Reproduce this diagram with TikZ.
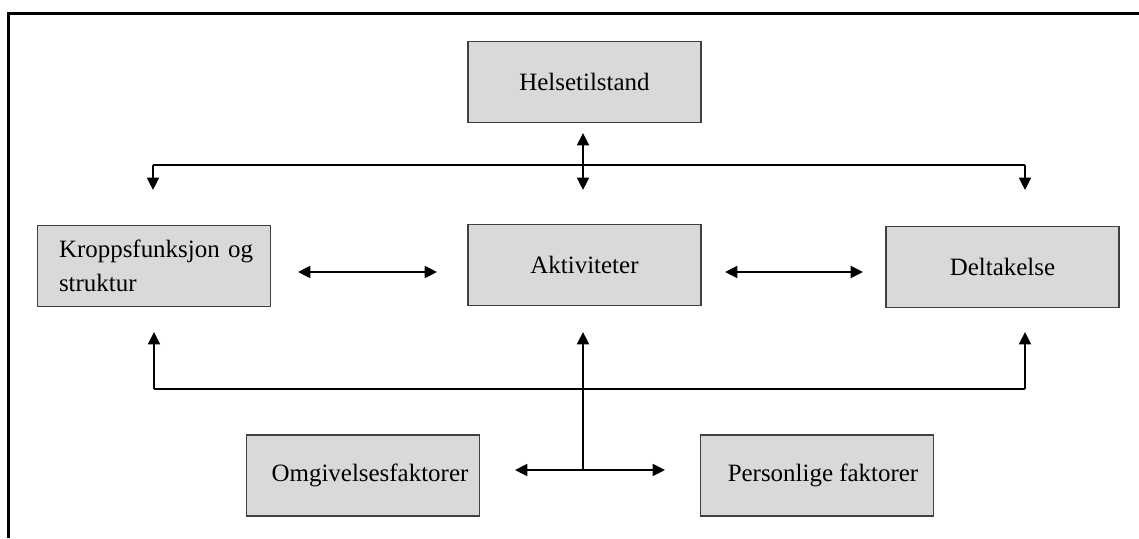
\documentclass[tikz,border=0pt]{standalone}
\usepackage{fontspec}
\setmainfont{Liberation Serif}
\usetikzlibrary{arrows.meta}
\definecolor{boxgray}{RGB}{217,217,217}

\begin{document}
\begin{tikzpicture}[x=0.02cm,y=-0.02cm,
    box/.style={draw=black!75,line width=0.7pt,fill=boxgray,minimum width=4.66cm,
      minimum height=1.62cm,inner sep=0pt,font=\fontsize{14.2}{19.5}\selectfont},
    link/.style={line width=1.1pt},
    tip/.style={-{Triangle[length=7pt,width=6.8pt]}},
    both/.style={{Triangle[length=7pt,width=6.8pt]}-{Triangle[length=7pt,width=6.8pt]}}]
  \useasboundingbox (0,0) rectangle (1139,538);
  \draw[line width=1.9pt] (1139,13.5) -- (8.5,13.5) -- (8.5,538);

  \node[box] (helse) at (584.5,82) {Helsetilstand};
  \node[box,text width=4.2cm,align=left,inner xsep=0.23cm] (kropp) at (154,266)
    {\hspace*{0.2cm}Kroppsfunksjon og\\\hspace*{0.2cm}struktur};
  \node[box] (akt) at (584.5,265) {Aktiviteter};
  \node[box] (delt) at (1002.5,267) {Deltakelse};
  \node[box] (omg) at (363,475.5) {\hspace{0.28cm}Omgivelsesfaktorer};
  \node[box] (pers) at (817,475.5) {\hspace{0.24cm}Personlige faktorer};

  % upper bus
  \coordinate (hup) at (583,133);
  \coordinate (hdown) at (583,190);
  \coordinate (hl) at (153,165);
  \coordinate (hr) at (1025,165);
  \coordinate (hlend) at (153,190);
  \coordinate (hrend) at (1025,190);
  \draw[link,both] (hup) -- (hdown);
  \draw[link] (hl) -- (hr);
  \draw[link,tip] (hl) -- (hlend);
  \draw[link,tip] (hr) -- (hrend);

  % middle row
  \coordinate (ka1) at (298,272);
  \coordinate (ka2) at (437,272);
  \coordinate (ad1) at (725,272);
  \coordinate (ad2) at (863,272);
  \draw[link,both] (ka1) -- (ka2);
  \draw[link,both] (ad1) -- (ad2);

  % lower bus
  \coordinate (bl) at (154,389);
  \coordinate (br) at (1025,389);
  \coordinate (blend) at (154,332);
  \coordinate (brend) at (1025,332);
  \coordinate (bmend) at (583,332);
  \coordinate (bj) at (583,470);
  \coordinate (bjl) at (515,470);
  \coordinate (bjr) at (665,470);
  \draw[link] (bl) -- (br);
  \draw[link,tip] (bl) -- (blend);
  \draw[link,tip] (br) -- (brend);
  \draw[link,tip] (bj) -- (bmend);
  \draw[link,both] (bjl) -- (bjr);
\end{tikzpicture}
\end{document}
